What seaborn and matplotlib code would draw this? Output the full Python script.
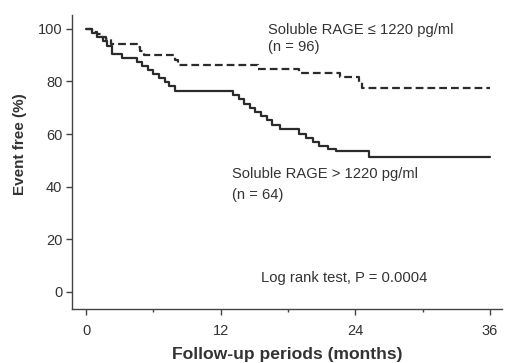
import matplotlib
matplotlib.use("Agg")
import matplotlib.pyplot as plt
import seaborn as sns
import pandas as pd

# Kaplan-Meier step data (months, event free %)
low_months = [0, 0.5, 1.0, 1.4, 1.8, 2.2, 4.5, 4.8, 5.2, 7.9, 8.2, 15.3, 19.0, 22.6, 24.3, 24.6, 36.0]
low_values = [100, 99, 98, 97, 96, 94.3, 93, 91.5, 90, 88.3, 86.4, 84.8, 83.3, 81.8, 79.8, 77.6, 77.6]

high_months = [0, 0.5, 1.0, 1.5, 1.9, 2.3, 3.2, 4.5, 5.0, 5.5, 6.0, 6.5, 7.0, 7.4, 7.9,
               13.1, 13.6, 14.1, 14.6, 15.1, 15.6, 16.1, 16.6, 17.3,
               19.0, 19.6, 20.2, 20.8, 21.6, 22.3, 25.2, 36.0]
high_values = [100, 98.5, 97, 95.5, 93.5, 90.6, 88.8, 87.3, 85.8, 84.3, 82.8, 81.3, 79.8, 78.3, 76.3,
               74.8, 73.2, 71.6, 70.0, 68.4, 66.8, 65.2, 63.6, 61.8,
               60.2, 58.6, 57.0, 55.5, 54.5, 53.6, 51.3, 51.3]

x_ticks = [0, 12, 24, 36]
y_ticks = [0, 20, 40, 60, 80, 100]

sns.set_style("ticks")
plt.rcParams['font.family'] = ['Liberation Sans', 'DejaVu Sans']

fig = plt.figure(figsize=(5.05, 3.63), dpi=100)
ax = fig.add_axes([0.1426, 0.1488, 0.852, 0.81])

ink = "#2b2b2b"
df_low = pd.DataFrame({"month": low_months, "event_free": low_values})
df_high = pd.DataFrame({"month": high_months, "event_free": high_values})

sns.lineplot(data=df_low, x="month", y="event_free", ax=ax, drawstyle="steps-post",
             color=ink, lw=1.6, linestyle=(0, (3.5, 1.8)), estimator=None)
sns.lineplot(data=df_high, x="month", y="event_free", ax=ax, drawstyle="steps-post",
             color=ink, lw=1.6, estimator=None)

ax.set_xlim(-1.25, 37.1)
ax.set_ylim(-6.5, 105.3)
ax.set_xticks(x_ticks)
ax.set_xticks([6, 18, 30], minor=True)
ax.set_yticks(y_ticks)
ax.set_xticklabels([str(v) for v in x_ticks])
ax.set_yticklabels([str(v) for v in y_ticks])
sns.despine(ax=ax)
for s in ["left", "bottom"]:
    ax.spines[s].set_color("#444444")
    ax.spines[s].set_linewidth(1.0)
ax.tick_params(axis="both", which="major", colors="#444444", labelcolor="#333333",
               labelsize=10.5, length=4, width=1.0, pad=3)
ax.tick_params(axis="x", which="minor", colors="#444444", length=2, width=1.0)
ax.tick_params(axis="x", which="major", pad=7)

ax.set_xlabel("Follow-up periods (months)", fontsize=12.6, fontweight="bold", color="#333333", labelpad=6)
ax.set_ylabel("Event free (%)", fontsize=11, fontweight="bold", color="#333333")
ax.yaxis.set_label_coords(-0.104, 0.559)

tc = "#333333"
fs = 10.6
ax.text(16.2, 99.6, "Soluble RAGE \u2264 1220 pg/ml", fontsize=fs, color=tc, va="center", ha="left")
ax.text(16.2, 93.2, "(n = 96)", fontsize=fs, color=tc, va="center", ha="left")
ax.text(13.0, 45.0, "Soluble RAGE > 1220 pg/ml", fontsize=fs, color=tc, va="center", ha="left")
ax.text(13.0, 37.0, "(n = 64)", fontsize=fs, color=tc, va="center", ha="left")
ax.text(15.6, 5.3, "Log rank test, P = 0.0004", fontsize=fs, color=tc, va="center", ha="left")

fig.savefig("out.png", dpi=100)
